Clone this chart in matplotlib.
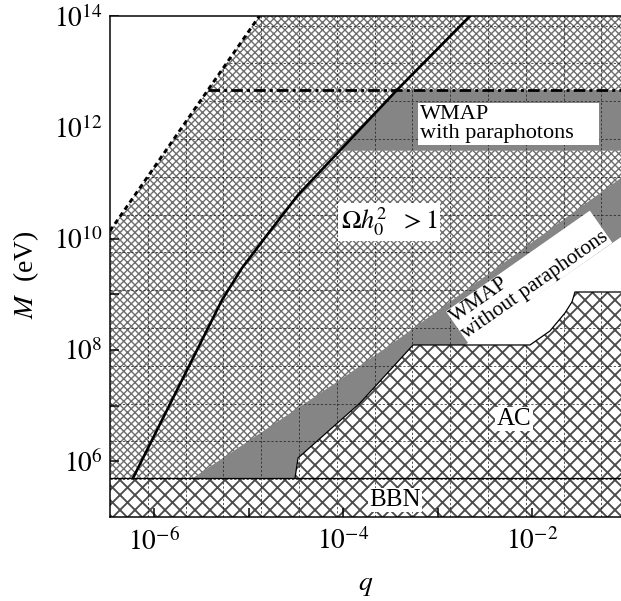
import numpy as np
import matplotlib.pyplot as plt
from matplotlib.patches import Polygon
from matplotlib.ticker import FixedLocator, FuncFormatter

plt.rcParams['font.family'] = ['Liberation Serif', 'DejaVu Serif']
plt.rcParams['mathtext.fontset'] = 'stix'

# values, as log10(q) and log10(M / eV)
q_lim = [-6.466, -1.058]
M_lim = [5.0, 14.0]

dash_logq = [-6.466, -4.885]          # upper dashed bound
dash_logM = [10.14, 14.0]

wmap_pp_logM = [11.58, 12.67]         # "WMAP with paraphotons" band, top is dash-dot line

omega_logq = [-6.222, -5.280, -5.069, -4.804, -4.476, -3.429, -2.656]
omega_logM = [5.701, 8.899, 9.473, 10.066, 10.785, 12.671, 14.0]

wmap_logq = [-5.587, -4.032, -3.397, -1.058]   # top edge of "WMAP without paraphotons"
wmap_logM = [5.701, 7.462, 8.216, 11.09]

ac_logq = [-4.508, -4.476, -3.820, -3.259, -2.021, -1.810, -1.651, -1.577, -1.545, -1.058]
ac_logM = [5.701, 6.060, 7.048, 8.090, 8.090, 8.342, 8.665, 8.863, 9.042, 9.042]

allowed_logq = [-2.709, -1.058]
allowed_logM = [8.09, 10.03]

bbn_logM = 5.701

ytick_exp = [6, 7, 8, 9, 10, 11, 12, 13, 14]
xtick_exp = [-6, -5, -4, -3, -2]


def poly(ax, lq, lM, **kw):
    xy = np.column_stack([10.0 ** np.asarray(lq), 10.0 ** np.asarray(lM)])
    p = Polygon(xy, closed=True, **kw)
    ax.add_patch(p)
    return p


def hatched(ax, lq, lM, hatch, color, hlw, z):
    p = poly(ax, lq, lM, facecolor='white', edgecolor=color,
             linewidth=0, hatch=hatch, zorder=z)
    if hasattr(p, 'set_hatch_linewidth'):
        p.set_hatch_linewidth(hlw)
    return p


fig = plt.figure(figsize=(621 / 90, 601 / 90), dpi=90)
ax = fig.add_axes([110 / 621, 84 / 601, 511 / 621, 501 / 601])
ax.set_xscale('log')
ax.set_yscale('log')
ax.set_xlim(10 ** q_lim[0], 10 ** q_lim[1])
ax.set_ylim(10 ** M_lim[0], 10 ** M_lim[1])

qlo, qhi = q_lim
Mlo, Mhi = M_lim

# Omega h^2 > 1 region (fine cross hatch), everything under the dashed line
hatched(ax, [qlo, dash_logq[1], qhi, qhi, qlo],
        [dash_logM[0], Mhi, Mhi, Mlo, Mlo], 'xxxx', '#6e6e6e', 1.1, 1)

# grey band: WMAP with paraphotons
q_a = np.interp(wmap_pp_logM[0], omega_logM, omega_logq)
q_b = np.interp(wmap_pp_logM[1], omega_logM, omega_logq)
poly(ax, [q_a, q_b, qhi, qhi],
     [wmap_pp_logM[0], wmap_pp_logM[1], wmap_pp_logM[1], wmap_pp_logM[0]],
     facecolor='#858585', edgecolor='none', zorder=1.2)

# grey wedge: WMAP without paraphotons
poly(ax, wmap_logq + ac_logq[::-1], wmap_logM + ac_logM[::-1],
     facecolor='#858585', edgecolor='none', zorder=1.2)

# AC and BBN (coarse cross hatch)
hatched(ax, ac_logq + [qhi], ac_logM + [bbn_logM], 'xx', '#4c4c4c', 1.5, 1.3)
hatched(ax, [qlo, qhi, qhi, qlo], [Mlo, Mlo, bbn_logM, bbn_logM], 'xx', '#4c4c4c', 1.5, 1.3)

# dashed grid of the hatched areas
step_x = 37.8 / 511
step_y = 37.8 / 501
for f in np.arange(step_x, 1, step_x):
    ax.plot([f, f], [0, 1], transform=ax.transAxes, color='#222222',
            lw=0.6, ls=(0, (3, 2.5)), zorder=1.5)
for f in np.arange(step_y, 1, step_y):
    ax.plot([0, 1], [f, f], transform=ax.transAxes, color='#222222',
            lw=0.6, ls=(0, (3, 2.5)), zorder=1.5)

# white areas: above the dashed bound, and the allowed pocket
poly(ax, [qlo, qlo, dash_logq[1]], [dash_logM[0], Mhi, Mhi],
     facecolor='white', edgecolor='none', zorder=1.6)
sel = [i for i, v in enumerate(ac_logq) if v >= -2.021]
poly(ax, allowed_logq + [ac_logq[i] for i in sel[::-1]],
     allowed_logM + [ac_logM[i] for i in sel[::-1]],
     facecolor='white', edgecolor='none', zorder=1.6)

# lines
ax.plot(10.0 ** np.asarray(dash_logq), 10.0 ** np.asarray(dash_logM),
        color='black', lw=2.3, ls=(0, (1.7, 1.3)), zorder=3)
q_dd = np.interp(wmap_pp_logM[1], dash_logM, dash_logq)
ax.plot([10 ** q_dd, 10 ** qhi], [10 ** wmap_pp_logM[1]] * 2, color='black',
        lw=2.2, ls=(0, (4.2, 1.5, 1.1, 1.5)), zorder=3)
ax.plot(10.0 ** np.asarray(omega_logq), 10.0 ** np.asarray(omega_logM),
        color='black', lw=2.1, zorder=3)
ax.plot(10.0 ** np.asarray(ac_logq), 10.0 ** np.asarray(ac_logM),
        color='black', lw=1.0, zorder=3)
ax.axhline(10 ** bbn_logM, color='black', lw=1.0, zorder=3)

# labels in white boxes
ax.text(10 ** -3.185, 10 ** 12.06, 'WMAP\nwith paraphotons    ', ha='left', va='center',
        fontsize=17.8, linespacing=1.0,
        bbox=dict(facecolor='white', edgecolor='none', pad=2), zorder=4)
ax.text(10 ** -2.03, 10 ** 9.31, 'WMAP\nwithout paraphotons', ha='center', va='center',
        multialignment='left', rotation=35, rotation_mode='anchor',
        fontsize=17, linespacing=1.0,
        bbox=dict(facecolor='white', edgecolor='none', pad=0.5), zorder=4)
ax.text(10 ** -3.513, 10 ** 10.30, r'$\Omega h_0^2\ \ > 1$', ha='center', va='center',
        fontsize=21, bbox=dict(facecolor='white', edgecolor='none', pad=2), zorder=4)
ax.text(10 ** -2.19, 10 ** 6.761, 'AC', ha='center', va='center',
        fontsize=20, bbox=dict(facecolor='white', edgecolor='none', pad=1), zorder=4)
ax.text(10 ** -3.45, 10 ** 5.306, 'BBN', ha='center', va='center',
        fontsize=20, bbox=dict(facecolor='white', edgecolor='none', pad=1), zorder=4)

# axes cosmetics
ax.yaxis.set_major_locator(FixedLocator([10.0 ** e for e in ytick_exp]))
ax.xaxis.set_major_locator(FixedLocator([10.0 ** e for e in xtick_exp]))
ax.yaxis.set_minor_locator(FixedLocator([]))
ax.xaxis.set_minor_locator(FixedLocator([]))


def fmt(v, pos):
    e = int(round(np.log10(v)))
    if e % 2:
        return ''
    return r'$10^{%d}$' % e


ax.yaxis.set_major_formatter(FuncFormatter(fmt))
ax.xaxis.set_major_formatter(FuncFormatter(fmt))
ax.tick_params(direction='in', length=7, width=1.2, labelsize=22, pad=6)
ax.tick_params(axis='x', pad=9)
for s in ['left', 'bottom', 'top']:
    ax.spines[s].set_linewidth(1.2)
    ax.spines[s].set_zorder(5)
ax.spines['right'].set_visible(False)

ax.set_xlabel(r'$q$', fontsize=22)
ax.set_ylabel(r'$M$  (eV)', fontsize=22)
ax.xaxis.set_label_coords(0.5, -0.112)
ax.yaxis.set_label_coords(-0.135, 0.483)

fig.savefig('out.png', dpi=90)
